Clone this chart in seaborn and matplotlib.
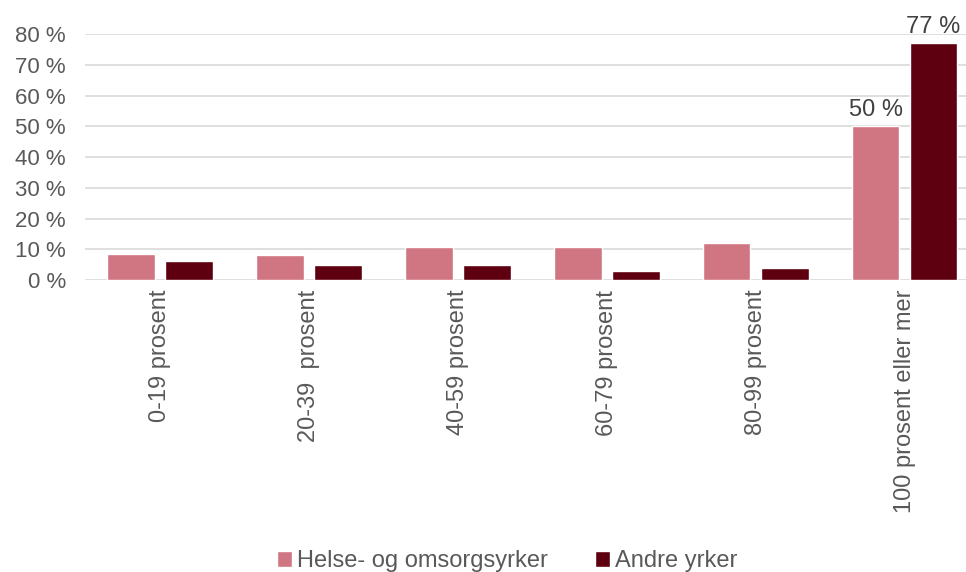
import pandas as pd
import matplotlib
matplotlib.use("Agg")
import matplotlib.pyplot as plt
import seaborn as sns

# --- Data ---
categories = ["0-19 prosent", "20-39  prosent", "40-59 prosent",
              "60-79 prosent", "80-99 prosent", "100 prosent eller mer"]
helse = [8.4, 8.1, 10.8, 10.8, 12.1, 50]
andre = [6.1, 4.9, 4.9, 2.8, 3.8, 77]
series = ["Helse- og omsorgsyrker", "Andre yrker"]
colors = ["#D07682", "#5E0010"]
yticks = [0, 10, 20, 30, 40, 50, 60, 70, 80]

df = pd.DataFrame({
    "Kategori": categories * 2,
    "Gruppe": [series[0]] * len(categories) + [series[1]] * len(categories),
    "Andel": helse + andre,
})

sns.set_theme(style="white")
plt.rcParams["font.family"] = ["Liberation Sans", "DejaVu Sans"]
text_gray = "#595959"

fig = plt.figure(figsize=(9.66, 5.72), dpi=100)
ax = fig.add_axes([0.0885, 0.5105, 0.925, 0.43])

sns.barplot(data=df, x="Kategori", y="Andel", hue="Gruppe",
            palette=colors, width=0.78, gap=0.18, ax=ax,
            saturation=1, legend=True)

ax.set_ylim(0, 80)
ax.set_yticks(yticks)
ax.set_yticklabels([f"{v} %" for v in yticks], fontsize=16, color=text_gray)
ax.set_xlim(-0.5, len(categories) - 0.5)
ax.tick_params(axis="x", labelrotation=90, labelsize=17, colors=text_gray, length=0, pad=7)
ax.tick_params(axis="y", length=0, pad=14)
ax.set_xlabel("")
ax.set_ylabel("")
ax.yaxis.grid(True, color="#D9D9D9", linewidth=1.2)
ax.set_axisbelow(True)
for side in ["top", "right", "left", "bottom"]:
    ax.spines[side].set_visible(False)

# value labels only on the last group
last = len(categories) - 1
for container in ax.containers:
    bar = container[last]
    ax.text(bar.get_x() + bar.get_width() / 2, bar.get_height() + 1.6,
            f"{bar.get_height():.0f} %", ha="center", va="bottom",
            fontsize=17, color="#404040", clip_on=False)

handles, labels = ax.get_legend_handles_labels()
ax.legend_.remove()
fig.legend(handles, labels, loc="lower center", bbox_to_anchor=(0.525, -0.037),
           ncol=2, frameon=False, fontsize=17, handlelength=0.65, handleheight=0.65,
           handletextpad=0.2, columnspacing=2.0, labelcolor=text_gray)

fig.savefig("out.png", dpi=100)
